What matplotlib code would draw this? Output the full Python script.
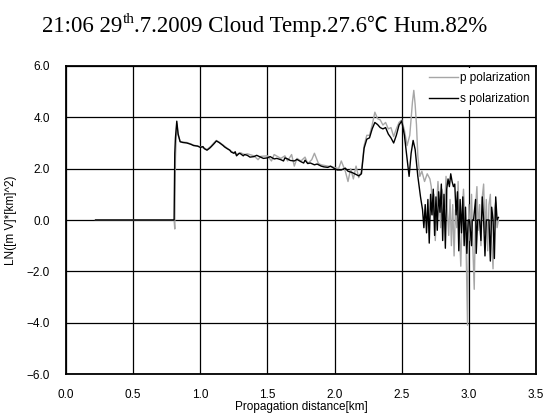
import matplotlib
matplotlib.use("Agg")
import matplotlib.pyplot as plt

# ---------------- data ----------------
s_x = [0.22, 0.805, 0.81, 0.815, 0.825, 0.835, 0.85, 0.87, 0.9, 0.93, 0.95, 0.98, 1.0, 1.02, 1.03, 1.05,
       1.07, 1.08, 1.1, 1.12, 1.14, 1.15, 1.17, 1.18, 1.2, 1.22, 1.23, 1.25, 1.26, 1.27, 1.29, 1.3,
       1.32, 1.33, 1.35, 1.37, 1.4, 1.42, 1.45, 1.47, 1.5, 1.52, 1.55, 1.57, 1.6, 1.62, 1.63, 1.65,
       1.67, 1.7, 1.72, 1.75, 1.77, 1.78, 1.8, 1.82, 1.85, 1.87, 1.9, 1.92, 1.95, 1.97, 2.0, 2.02,
       2.05, 2.08, 2.1, 2.13, 2.15, 2.18, 2.2, 2.22,
       2.24, 2.26, 2.28, 2.3, 2.32, 2.34, 2.36, 2.38, 2.4, 2.42, 2.44, 2.46, 2.48, 2.5, 2.52,
       2.54, 2.555, 2.57, 2.585, 2.6, 2.62, 2.64, 2.655, 2.665, 2.675, 2.685, 2.695, 2.705,
       2.715, 2.725, 2.735, 2.745, 2.755, 2.765, 2.775, 2.785, 2.795, 2.805, 2.815, 2.825,
       2.835, 2.845, 2.855, 2.865, 2.875, 2.885, 2.895, 2.905, 2.915, 2.925, 2.935, 2.945,
       2.955, 2.965, 2.975, 2.985, 2.995, 3.005, 3.02, 3.025, 3.035, 3.05, 3.055, 3.065, 3.08,
       3.09, 3.1, 3.11, 3.12, 3.13, 3.14, 3.15, 3.16, 3.17, 3.18, 3.19, 3.2, 3.21, 3.22]
s_y = [0.0, 0.0, 2.6, 3.2, 3.85, 3.35, 3.05, 3.02, 3.0, 2.95, 2.9, 2.88, 2.83, 2.86, 2.78, 2.72,
       2.8, 2.85, 2.96, 3.08, 3.02, 2.98, 2.9, 2.85, 2.78, 2.72, 2.65, 2.6, 2.66, 2.5, 2.6, 2.58,
       2.5, 2.55, 2.52, 2.45, 2.47, 2.52, 2.45, 2.4, 2.42, 2.47, 2.38, 2.4, 2.35, 2.3, 2.42, 2.38,
       2.32, 2.3, 2.36, 2.27, 2.22, 2.33, 2.2, 2.22, 2.15, 2.18, 2.1, 2.07, 2.05, 2.1, 2.0, 1.95,
       1.95, 2.02, 1.9, 1.85, 1.8, 1.72, 1.8, 2.8,
       3.15, 3.2, 3.55, 3.8, 3.72, 3.6, 3.55, 3.6, 3.35, 3.2, 3.0, 3.3, 3.7, 3.86, 3.3,
       2.4, 1.7, 2.6, 3.1, 2.75, 1.7, 0.9, 0.4, -0.3, 0.6, -0.5, 0.8, -0.9,
       1.0, 0.2, 1.2, -0.6, 0.9, -0.4, 1.1, 0.3, 1.4, -0.8, 1.0, -1.1,
       1.2, 1.6, 1.3, 1.8, 1.5, 1.3, 1.4, 0.2, 1.1, -1.2, 0.8, -0.5,
       0.9, -1.0, 0.5, -1.3, 0.0, 0.0, -1.0, 0.0, 0.0, 0.8, -1.3, 0.0, 0.0,
       -0.8, 0.9, 0.0, -1.4, 0.0, 0.0, 0.0, -1.6, 0.5, 0.0, -1.5, 0.9, 0.0, 0.1]

p_x = [0.22, 0.805, 0.81, 0.815, 0.825, 0.835, 0.85, 0.9, 0.95, 1.0, 1.03, 1.05, 1.08, 1.1, 1.12,
       1.15, 1.18, 1.2, 1.23, 1.25, 1.27, 1.3, 1.33, 1.35, 1.4, 1.43, 1.45, 1.5, 1.53, 1.55, 1.6, 1.63,
       1.65, 1.68, 1.7, 1.72, 1.75, 1.78, 1.8, 1.83, 1.85, 1.88, 1.9, 1.95, 2.0, 2.03, 2.05, 2.08,
       2.1, 2.12, 2.14, 2.16, 2.18, 2.2, 2.22, 2.24, 2.26, 2.28, 2.3, 2.32, 2.34, 2.36, 2.38, 2.4,
       2.42, 2.44, 2.46, 2.48, 2.5, 2.52, 2.54, 2.56, 2.58, 2.59, 2.6, 2.61, 2.62, 2.635, 2.65,
       2.67, 2.69, 2.71, 2.72, 2.73, 2.74, 2.75, 2.76, 2.77, 2.78, 2.79, 2.8, 2.82, 2.83, 2.84,
       2.85, 2.86, 2.87, 2.88, 2.89, 2.9, 2.91, 2.92, 2.93, 2.94, 2.95, 2.96, 2.97, 2.98, 2.99,
       3.0, 3.01, 3.02, 3.03, 3.04, 3.05, 3.06, 3.07, 3.08, 3.09, 3.1, 3.11, 3.12, 3.13, 3.14,
       3.15, 3.16, 3.17, 3.18, 3.19, 3.2, 3.21, 3.22]
p_y = [0.0, 0.0, -0.35, 2.4, 3.75, 3.3, 3.05, 3.02, 2.92, 2.85, 2.8, 2.75, 2.88, 3.0, 3.1,
       3.0, 2.88, 2.8, 2.68, 2.62, 2.55, 2.62, 2.55, 2.58, 2.5, 2.35, 2.48, 2.5, 2.3, 2.55, 2.4, 2.5,
       2.3, 2.55, 2.1, 2.4, 2.3, 2.45, 2.2, 2.35, 2.6, 2.2, 2.15, 2.1, 2.05, 2.0, 2.3, 1.9,
       1.5, 2.0, 1.6, 2.1, 1.65, 1.9, 2.9, 3.3, 3.3, 3.7, 4.2, 3.95, 3.9, 3.7, 3.8, 3.55,
       3.6, 3.25, 3.55, 3.8, 3.9, 3.5, 2.9, 3.3, 4.6, 5.05, 4.5, 3.7, 2.5, 1.7, 1.9,
       1.5, 1.8, 1.6, 1.3, 0.2, 1.0, -0.8, 0.6, 1.5, 0.7, -0.3, 1.2, 0.5, 1.7, 0.3,
       -0.6, 0.8, -1.0, 0.6, -1.4, 0.4, -0.3, 1.5, -0.5, -1.8, 0.3, 1.2, 0.2, -1.2, -4.1,
       0.6, -0.8, 1.0, -1.1, -2.7, 0.5, 1.3, -0.4, 0.6, -1.0, 0.9, 1.4, -0.5, 0.8, -1.2,
       0.6, 1.0, -0.8, -1.9, 0.4, 0.7, -0.3, 0.0]

x_ticks = [0.0, 0.5, 1.0, 1.5, 2.0, 2.5, 3.0, 3.5]
y_ticks = [-6.0, -4.0, -2.0, 0.0, 2.0, 4.0, 6.0]
series_labels = ["p polarization", "s polarization"]
title_parts = ["21:06 29", "th", ".7.2009 Cloud Temp.27.6", "\u2103", " Hum.82%"]

# ---------------- figure ----------------
fig = plt.figure(figsize=(5.46, 4.19), dpi=100)
ax = fig.add_axes([66 / 546, 1 - 374 / 419, 470 / 546, 308 / 419])

tick_font = ["Liberation Sans", "DejaVu Sans"]
fs = 8.5
ax.plot(p_x, p_y, color="#a6a6a6", lw=1.0, label=series_labels[0], zorder=3)
ax.plot(s_x, s_y, color="black", lw=1.0, label=series_labels[1], zorder=4)

ax.set_xlim(0, 3.5)
ax.set_ylim(-6, 6)
ax.set_xticks(x_ticks)
ax.set_yticks(y_ticks)
ax.set_xticklabels([f"{v:.1f}" for v in x_ticks], fontsize=fs, family=tick_font)
ax.set_yticklabels([f"{v:.1f}".replace("-", "\u2212") for v in y_ticks], fontsize=fs, family=tick_font)
ax.tick_params(axis="y", length=0, pad=11.5)
ax.tick_params(axis="x", length=0, pad=11)
ax.grid(True, color="black", lw=0.9)
ax.set_axisbelow(True)
for sp in ax.spines.values():
    sp.set_linewidth(1.3)

ax.set_xlabel("Propagation distance[km]", fontsize=fs, family=tick_font, labelpad=0)
ax.set_ylabel("LN([m V]*[km]^2)", fontsize=fs, family=tick_font, labelpad=7)

leg = ax.legend(loc="upper right", frameon=True, facecolor="white", edgecolor="none",
                framealpha=1.0, fancybox=False, handlelength=2.4,
                handletextpad=0.15, borderaxespad=0.15, borderpad=0.4, labelspacing=0.75,
                prop={"family": tick_font, "size": fs})
leg.set_zorder(5)

# ---------------- title with superscript ----------------
serif = ["Liberation Serif", "DejaVu Serif"]
fig.canvas.draw()
r = fig.canvas.get_renderer()
x = 42 / 546
yb = 1 - 32 / 419
sizes = [16.5, 11, 16.5, 15, 16.5]
offs = [0, 9 / 419, 0, 0, 0]
fams = [serif, serif, serif, ["Noto Sans CJK JP", "DejaVu Sans"], serif]
for part, sz, off, fam in zip(title_parts, sizes, offs, fams):
    t = fig.text(x, yb + off, part, fontsize=sz, family=fam, va="baseline")
    x += t.get_window_extent(r).width / fig.bbox.width

fig.savefig("out.png", dpi=100)
